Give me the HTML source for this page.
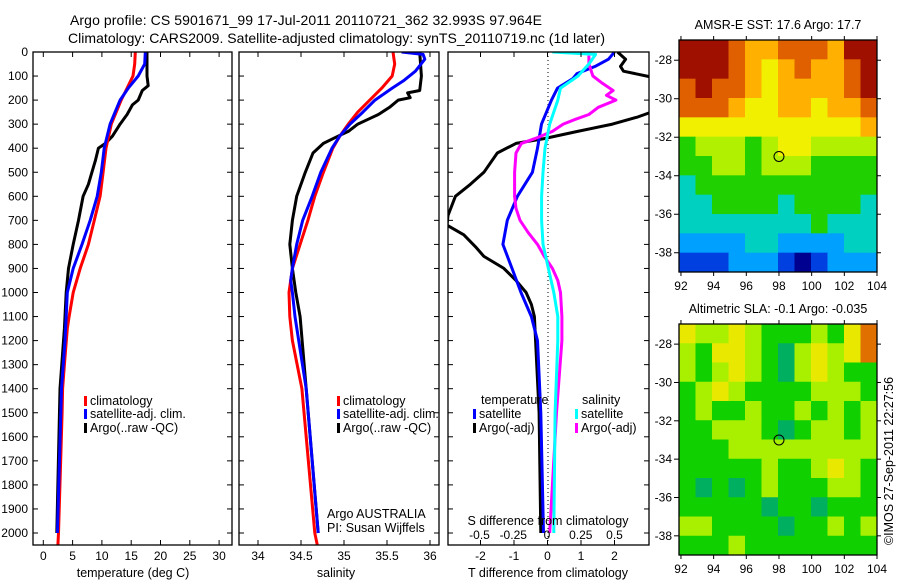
<!DOCTYPE html>
<html><head><meta charset="utf-8">
<style>
html,body{margin:0;padding:0;background:#fff;}
svg{display:block;font-family:"Liberation Sans",sans-serif;}
</style></head>
<body>
<svg id="chart" width="900" height="580" viewBox="0 0 900 580" xmlns="http://www.w3.org/2000/svg">
<text x="70" y="25" font-size="14" textLength="472">Argo profile: CS 5901671_99 17-Jul-2011 20110721_362 32.993S 97.964E</text>
<text x="68" y="43" font-size="14" textLength="537">Climatology: CARS2009. Satellite-adjusted climatology: synTS_20110719.nc (1d later)</text>
<g id="g"></g>
</svg>
<script>
// ---------- DATA ----------
// Temperature panel (deg C) by depth (m)
const tClimDepth = [0,50,100,150,200,300,400,500,600,700,800,900,1000,1100,1150,1300,1400,1500,2000,2050];
const tClim =      [15.7,15.6,15.3,14.3,13.3,11.6,10.7,10.2,9.7,8.7,7.7,6.3,5.1,4.4,4.1,3.6,3.3,3.2,2.6,2.5];
const tSatDepth = [0,50,100,150,200,300,400,500,600,700,800,900,1000,1100,1200,1400,2000];
const tSat =      [17.4,17.3,16.2,14.5,13.1,11.4,10.4,9.9,9.2,8.0,6.6,5.1,4.1,3.9,3.7,3.1,2.4];
const tArgoDepth = [0,100,140,160,200,220,260,300,350,380,400,450,500,550,600,700,800,900,1000,1100,1150,1400,2000];
const tArgo =      [17.7,17.7,17.9,16.9,16.2,15.2,14.3,13.1,11.8,10.6,9.4,8.9,8.3,7.7,6.8,6.0,5.1,4.3,3.9,3.7,3.6,2.85,2.3];
// Salinity panel
const sClimDepth = [0,50,100,150,200,250,300,350,400,500,600,700,800,900,1000,1100,1200,1400,2000,2050];
const sClim =      [35.57,35.59,35.56,35.44,35.30,35.16,35.05,34.95,34.87,34.76,34.66,34.58,34.49,34.40,34.36,34.37,34.40,34.51,34.66,34.69];
const sSatDepth = [0,10,30,80,120,150,200,250,300,350,400,500,600,700,800,900,950,1000,1100,1400,2000];
const sSat =      [35.67,35.92,35.94,35.83,35.69,35.56,35.36,35.22,35.07,34.95,34.86,34.73,34.63,34.52,34.45,34.40,34.38,34.40,34.43,34.56,34.70];
const sArgoDepth = [0,100,160,170,190,200,230,260,280,300,330,350,380,420,500,600,700,800,900,1000,1100,1400,2000];
const sArgo =      [35.88,35.90,35.88,35.74,35.77,35.63,35.53,35.40,35.28,35.16,35.05,34.93,34.76,34.64,34.55,34.45,34.40,34.37,34.40,34.44,34.49,34.56,34.70];
// Difference panel
const dTArgoDepth = [0,30,60,80,110,240,270,300,330,360,380,420,500,550,600,680,720,760,810,850,900,950,1000,1050,1100,1500,2000];
const dTArgo =      [2.09,2.33,2.18,2.27,3.3,3.3,2.7,1.94,0.9,-0.1,-0.94,-1.5,-1.9,-2.3,-2.75,-2.97,-3.0,-2.5,-2.15,-1.9,-1.3,-0.94,-0.64,-0.48,-0.39,-0.25,-0.2];
const dTSatDepth = [0,30,60,90,110,150,200,250,300,400,500,600,700,800,900,1000,1100,1200,1500,2000];
const dTSat =      [2.0,1.82,1.42,0.88,0.76,0.3,0.12,-0.03,-0.18,-0.3,-0.45,-0.9,-1.2,-1.33,-1.06,-0.79,-0.48,-0.3,-0.2,-0.12];
const dSSatDepth = [0,10,50,100,150,200,300,400,500,600,700,800,900,1000,1100,1200,1500,2000];
const dSSat =      [0.04,0.36,0.31,0.23,0.10,0.08,0.02,-0.015,-0.03,-0.04,-0.04,-0.03,0.01,0.05,0.08,0.08,0.06,0.05];
const dSArgoDepth = [15,50,100,130,160,180,200,230,260,280,300,330,360,380,420,500,600,650,700,750,800,850,900,950,1000,1100,1200,1500,2000];
const dSArgo =      [0.31,0.31,0.34,0.41,0.49,0.44,0.51,0.38,0.31,0.21,0.12,0.04,-0.09,-0.19,-0.23,-0.24,-0.24,-0.23,-0.2,-0.14,-0.07,-0.02,0.04,0.08,0.10,0.11,0.11,0.07,0.02];
// Depth ticks
const depthTicks = [0,100,200,300,400,500,600,700,800,900,1000,1100,1200,1300,1400,1500,1600,1700,1800,1900,2000];
const tTicks = [0,5,10,15,20,25,30];
const sTicks = [34,34.5,35,35.5,36];
const sTickLabels = ["34","34.5","35","35.5","36"];
const dTTicks = [-2,-1,0,1,2];
const dSTicks = [-0.5,-0.25,0,0.25,0.5];
const dSTickLabels = ["-0.5","-0.25","0","0.25","0.5"];
// Maps: rows from lat -27 (top) to -39, cols lon 92..104; digit level 0..9
const sstGrid = [
"999877888799","999876787789","898876777789","888766776778",
"666666666667","455545665555","445545554444","344444444444",
"334444344443","333333334333","222233222233","111222101222"];
const slaGrid = [
"655654445467","546654356567","545654356544","456544445554",
"454454454545","445554345545","444555555555","444445445654",
"434345444554","444443443444","554444344545","444544444444"];
const latTicks = [-28,-30,-32,-34,-36,-38];
const lonTicks = [92,94,96,98,100,102,104];
const argoLon = 98, argoLat = -33;

// ---------- DRAW ----------
const NS="http://www.w3.org/2000/svg";
const G=document.getElementById('g');
function el(tag,attrs,parent){const e=document.createElementNS(NS,tag);for(const k in attrs)e.setAttribute(k,attrs[k]);(parent||G).appendChild(e);return e;}
function txt(x,y,s,size,anchor,name,parent){const t=el('text',{x:x,y:y,'font-size':size,'text-anchor':anchor||'start'},parent);t.textContent=s;
return t;}

const TOP=52,BOT=545,DMAX=(BOT-TOP)/0.2405;
const yD=d=>TOP+d*0.2405;

function panel(name,x0,x1,xfun,ticks,labels){
  const g=el('g',{});
  
  
  const cp='clip-'+name;
  const c=el('clipPath',{id:cp},g);el('rect',{x:x0,y:TOP,width:x1-x0,height:BOT-TOP},c);
  const lines=el('g',{'clip-path':'url(#'+cp+')'},g);
  ticks.forEach((v,i)=>{const x=xfun(v);
    el('line',{x1:x,x2:x,y1:TOP,y2:TOP+5,stroke:'#000'},g);
    el('line',{x1:x,x2:x,y1:BOT,y2:BOT-5,stroke:'#000'},g);
    if(labels){const t=txt(x,BOT+15,labels[i],12,'middle','x-tick-label',g);}
  });
  depthTicks.forEach(d=>{const y=yD(d);
    el('line',{x1:x0,x2:x0+5,y1:y,y2:y,stroke:'#000'},g);
    el('line',{x1:x1,x2:x1-5,y1:y,y2:y,stroke:'#000'},g);});
  el('rect',{x:x0,y:TOP,width:x1-x0,height:BOT-TOP,fill:'none',stroke:'#000','stroke-width':1.3},g);
  return lines;
}
function series(parent,depths,vals,xfun,color,name,w){
  const pts=depths.map((d,i)=>xfun(vals[i]).toFixed(1)+','+yD(d).toFixed(1)).join(' ');
  const p=el('polyline',{points:pts,fill:'none',stroke:color,'stroke-width':w||3,'stroke-linejoin':'round'},parent);
  
  
}
function legend(x,y,color,label,parent){
  el('rect',{x:x,y:y-9,width:3,height:10,fill:color},parent);
  const t=txt(x+6,y,label,12.5,'start','legend-entry',parent);
}

// Panel 1: temperature
const xT=v=>43.3+v*5.86;
const p1=panel('temperature-panel',33,232,xT,tTicks,tTicks.map(String));
series(p1,tArgoDepth,tArgo,xT,'#000','temp-argo-line');
series(p1,tClimDepth,tClim,xT,'#f00','temp-climatology-line');
series(p1,tSatDepth,tSat,xT,'#00f','temp-satellite-line');
depthTicks.forEach(d=>{txt(28,yD(d)+4,String(d),12,'end','y-tick-label');});
txt(133,577,'temperature (deg C)',12.5,'middle','temperature-axis-title');
legend(84,405,'#f00','climatology');legend(84,418,'#00f','satellite-adj. clim.');legend(84,432,'#000','Argo(..raw -QC)');

// Panel 2: salinity
const xS=v=>258+(v-34)*86;
const p2=panel('salinity-panel',239,439,xS,sTicks,sTickLabels);
series(p2,sArgoDepth,sArgo,xS,'#000','sal-argo-line');
series(p2,sClimDepth,sClim,xS,'#f00','sal-climatology-line');
series(p2,sSatDepth,sSat,xS,'#00f','sal-satellite-line');
txt(336,577,'salinity',12.5,'middle','salinity-axis-title');
legend(337,405,'#f00','climatology');legend(337,418,'#00f','satellite-adj. clim.');legend(337,432,'#000','Argo(..raw -QC)');
txt(327,518,'Argo AUSTRALIA',12.5,'start','argo-australia-label');
txt(327,532,'PI: Susan Wijffels',12.5,'start','pi-label');

// Panel 3: differences
const xDT=v=>547.5+v*33.5;
const xDS=v=>547+v*135;
const p3=panel('difference-panel',448,649,xDT,dTTicks,dTTicks.map(String));
el('line',{x1:548,x2:548,y1:TOP,y2:BOT,stroke:'#000','stroke-dasharray':'1,3','stroke-width':1},p3);
series(p3,dTArgoDepth,dTArgo,xDT,'#000','dt-argo-line');
series(p3,dTSatDepth,dTSat,xDT,'#00f','dt-satellite-line');
series(p3,dSArgoDepth,dSArgo,xDS,'#f0f','ds-argo-line');
series(p3,dSSatDepth,dSSat,xDS,'#0ff','ds-satellite-line');
dSTicks.forEach((v,i)=>txt(xDS(v),539,dSTickLabels[i],12,'middle','s-tick-label'));
txt(548,525,'S difference from climatology',12.5,'middle','s-diff-axis-title');
txt(548,577,'T difference from climatology',12.5,'middle','t-diff-axis-title');
txt(481,404,'temperature',12.5,'start','legend-temperature-heading');
legend(473,418,'#00f','satellite');legend(473,432,'#000','Argo(-adj)');
txt(582,404,'salinity',12.5,'start','legend-salinity-heading');
legend(575,418,'#0ff','satellite');legend(575,432,'#f0f','Argo(-adj)');

// Maps
const sstPal=['#000090','#0040e0','#00a0ff','#00d0c0','#20d000','#b0f000','#f0f000','#ffb000','#e06000','#a01000'];
const slaPal=['#000090','#0040e0','#00a0ff','#00b060','#10d000','#a8f000','#e8e800','#e07000','#c04000','#a01000'];
function map(name,top,bot,grid,pal,title){
  const L=679,R=877;
  const g=el('g',{});
  
  
  const lonX=v=>L+(v-91.88)*(R-L)/(104-91.88);
  const latY=v=>top+(-26.95-v)*(bot-top)/(39-26.95);
  const rows=grid.length, cols=grid[0].length;
  const cw=(R-L)/cols, ch=(bot-top)/rows;
  grid.forEach((row,r)=>{[...row].forEach((c,k)=>{
    const cell=el('rect',{x:(L+k*cw).toFixed(2),y:(top+r*ch).toFixed(2),width:(cw+0.5).toFixed(2),height:(ch+0.5).toFixed(2),fill:pal[+c]},g);
    
    
  });});
  el('rect',{x:L,y:top,width:R-L,height:bot-top,fill:'none',stroke:'#000','stroke-width':1.3},g);
  latTicks.forEach(v=>{const y=latY(v);el('line',{x1:L-5,x2:L,y1:y,y2:y,stroke:'#000'},g);el('line',{x1:R,x2:R+4,y1:y,y2:y,stroke:'#000'},g);
    txt(L-7,y+4,String(v),12,'end','lat-tick-label',g);});
  lonTicks.forEach(v=>{const x=lonX(v);el('line',{x1:x,x2:x,y1:bot,y2:bot+4,stroke:'#000'},g);el('line',{x1:x,x2:x,y1:top-4,y2:top,stroke:'#000'},g);
    txt(x,bot+18,String(v),12,'middle','lon-tick-label',g);});
  const m=el('circle',{cx:lonX(argoLon),cy:latY(argoLat),r:5,fill:'none',stroke:'#000','stroke-width':1},g);
  
  
  txt(778,top-11,title,12.5,'middle','map-title',g);
}
map('sst-map',40,272,sstGrid,sstPal,'AMSR-E SST: 17.6 Argo: 17.7');
map('sla-map',324,555,slaGrid,slaPal,'Altimetric SLA: -0.1 Argo: -0.035');
const rt=txt(0,0,'©IMOS 27-Sep-2011 22:27:56',12.5,'middle','imos-timestamp');
rt.setAttribute('transform','translate(893,461) rotate(-90)');
</script>
</body></html>
